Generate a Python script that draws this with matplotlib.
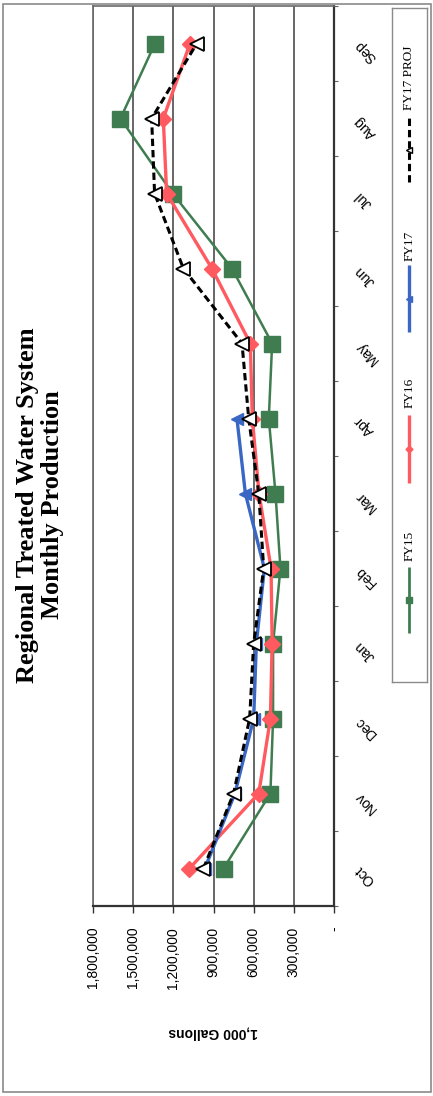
import numpy as np
import matplotlib
matplotlib.use('Agg')
import matplotlib.pyplot as plt
from matplotlib.patches import Rectangle

# monthly production, 1,000 gallons
months = ['Oct', 'Nov', 'Dec', 'Jan', 'Feb', 'Mar', 'Apr', 'May', 'Jun', 'Jul', 'Aug', 'Sep']
fy15 = [825000, 475000, 455000, 455000, 400000, 437000, 487000, 462000, 762000, 1205000, 1595000, 1337000]
fy16 = [1080000, 562000, 475000, 462000, 470000, 560000, 610000, 625000, 912000, 1250000, 1275000, 1075000]
fy17 = [965000, 740000, 600000, 580000, 520000, 662000, 725000]
fy17_proj = [975000, 750000, 630000, 600000, 525000, 562000, 637000, 687000, 1125000, 1340000, 1362000, 1025000]
value_ticks = [0, 300000, 600000, 900000, 1200000, 1500000, 1800000]

W, H = 433, 1096
fig = plt.figure(figsize=(W / 100, H / 100), dpi=100)

# page frame
fig.patches.append(Rectangle((3 / W, 4 / H), 428 / W, 1088 / H, transform=fig.transFigure,
                             fill=False, edgecolor='#8a8a8a', lw=1.2))

# chart is laid out sideways: values run right-to-left, months bottom-to-top
ax = fig.add_axes([93 / W, (H - 906) / H, 241 / W, 900 / H])
pos = np.arange(len(months))

ax.plot(fy15, pos, color='#3f7d50', lw=1.8, marker='s', ms=11, mfc='#3f7d50', mec='#3f7d50', zorder=3)
ax.plot(fy16, pos, color='#ff5a60', lw=2.4, marker='D', ms=8, mfc='#ff5a60', mec='#ff5a60', zorder=4)
ax.plot(fy17, pos[:len(fy17)], color='#3a66c4', lw=2.4, marker='<', ms=8, mfc='#3a66c4', mec='#3a66c4', zorder=5)
ax.plot(fy17_proj, pos, color='black', lw=2.2, ls=(0, (2.4, 1.3)), marker='<', ms=10,
        mfc='white', mec='black', mew=1.3, zorder=6)

ax.set_xlim(1800000, 0)
ax.set_ylim(-0.5, len(months) - 0.5)

ax.set_xticks(value_ticks)
ax.set_xticklabels(['-' if v == 0 else f'{v:,}' for v in value_ticks],
                   rotation=90, fontsize=10, family=['Liberation Sans', 'DejaVu Sans'])
ax.tick_params(axis='x', length=5, width=1, color='#333333', pad=10)
ax.grid(axis='x', color='#5a5a5a', lw=1.3)
ax.set_axisbelow(True)

ax.yaxis.tick_right()
ax.set_yticks(pos)
ax.set_yticklabels(months, rotation=135, fontsize=10, family=['Liberation Sans', 'DejaVu Sans'])
ax.tick_params(axis='y', which='major', length=0, pad=13)
ax.set_yticks(np.arange(len(months) + 1) - 0.5, minor=True)
ax.tick_params(axis='y', which='minor', length=3, width=0.8, color='#666666', right=True, left=False)

for side in ['top', 'left']:
    ax.spines[side].set_color('#6a6a6a')
    ax.spines[side].set_linewidth(1.2)
for side in ['right', 'bottom']:
    ax.spines[side].set_color('#333333')
    ax.spines[side].set_linewidth(1.6)

fig.text(213 / W, 1 - 1033 / H, '1,000 Gallons', rotation=180, ha='center', va='center',
         fontsize=10, fontweight='bold', family=['Liberation Sans', 'DejaVu Sans'])

fig.text(40 / W, 1 - 505 / H, 'Regional Treated Water System\nMonthly Production', rotation=90,
         ha='center', va='center', multialignment='center', fontsize=19, fontweight='bold',
         family=['Liberation Serif', 'DejaVu Serif'], linespacing=1.1)

# legend box, entries stacked bottom-to-top
lg = fig.add_axes([392 / W, (H - 682) / H, 35 / W, 674 / H])
lg.set_xlim(0, 35)
lg.set_ylim(682, 8)
lg.set_xticks([])
lg.set_yticks([])
for s in lg.spines.values():
    s.set_color('#8a8a8a')
    s.set_linewidth(1.0)

entries = [
    ('FY15', dict(color='#3f7d50', lw=2.0, marker='s', ms=4), 633, 567, 546),
    ('FY16', dict(color='#ff5a60', lw=2.4, marker='D', ms=3.5), 483, 415, 393),
    ('FY17', dict(color='#3a66c4', lw=2.4, marker='<', ms=4), 332, 265, 246),
    ('FY17 PROJ', dict(color='black', lw=2.2, ls=(0, (2.4, 1.3)), marker='<', ms=5,
                       mfc='white', mec='black'), 182, 118, 78),
]
for name, style, y0, y1, ty in entries:
    lg.plot([17, 17], [y0, y1], solid_capstyle='butt', markevery=[], **style)
    lg.plot([17], [(y0 + y1) / 2], **{k: v for k, v in style.items() if k not in ('ls', 'lw')})
    lg.text(17.5, ty, name, rotation=90, ha='center', va='center', fontsize=9.5,
            family=['Liberation Serif', 'DejaVu Serif'])

fig.savefig('out.png', dpi=100)
